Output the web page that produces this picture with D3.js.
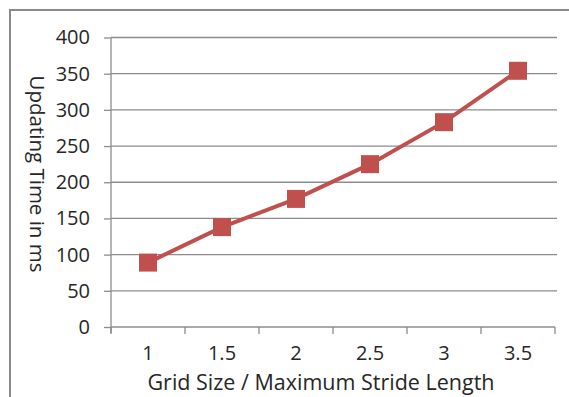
<!DOCTYPE html>
<html><head><meta charset="utf-8">
<script src="https://cdn.jsdelivr.net/npm/d3@7"></script>
<style>html,body{margin:0;padding:0;background:#fff;overflow:hidden}</style>
</head><body>
<svg id="c" width="569" height="397"></svg>
<script>
const categories = ["1","1.5","2","2.5","3","3.5"];
const values = [89, 138, 177, 225, 283, 354];
const yTicks = [0,50,100,150,200,250,300,350,400];
const xTitle = "Grid Size / Maximum Stride Length";
const yTitle = "Updating Time in ms";

(function(){
const svg = d3.select("#c");
const font = "'Open Sans', sans-serif";
const textColor = "#262626";
const red = "#c0504d";

svg.append("rect").attr("x",10).attr("y",10).attr("width",600).attr("height",420)
  .attr("fill","none").attr("stroke","#8a8a8a").attr("stroke-width",2);

const pL = 111, pR = 555, pT = 37.5, pB = 327;
const x = d3.scaleBand().domain(categories).range([pL,pR]).paddingInner(0).paddingOuter(0);
const y = d3.scaleLinear().domain([0,400]).range([pB,pT]);

svg.append("g").selectAll("line").data(yTicks.filter(d=>d>0)).join("line")
  .attr("x1",pL).attr("x2",pR+2).attr("y1",d=>y(d)).attr("y2",d=>y(d))
  .attr("stroke","#8c8c8c").attr("stroke-width",1.3);

const ya = svg.append("g").attr("transform",`translate(${pL},0)`)
  .call(d3.axisLeft(y).tickValues(yTicks).tickSize(7).tickPadding(14));
ya.select(".domain").attr("stroke","#8c8c8c").attr("stroke-width",1.3)
  .attr("d",`M0,${pT}V${pB+6}`);
ya.selectAll(".tick line").attr("stroke","#8c8c8c").attr("stroke-width",1.3);
ya.selectAll(".tick text").attr("font-family",font).attr("font-size",20).attr("fill",textColor);

const xa = svg.append("g").attr("transform",`translate(0,${pB})`)
  .call(d3.axisBottom(x).tickSize(0).tickPadding(19));
xa.select(".domain").attr("stroke","#8c8c8c").attr("stroke-width",1.3).attr("d",`M${pL},0H${pR}`);
xa.selectAll(".tick text").attr("font-family",font).attr("font-size",20).attr("fill",textColor);
const bounds = categories.map(c=>x(c)).concat([x(categories[categories.length-1])+x.bandwidth()]);
xa.append("g").selectAll("line").data(bounds).join("line")
  .attr("x1",d=>d).attr("x2",d=>d).attr("y1",0).attr("y2",7)
  .attr("stroke","#8c8c8c").attr("stroke-width",1.3);

const line = d3.line().x((d,i)=>x(categories[i])+x.bandwidth()/2).y(d=>y(d));
svg.append("path").datum(values).attr("d",line).attr("fill","none")
  .attr("stroke",red).attr("stroke-width",4);
const ms = 18;
svg.append("g").selectAll("rect").data(values).join("rect")
  .attr("x",(d,i)=>x(categories[i])+x.bandwidth()/2-ms/2).attr("y",d=>y(d)-ms/2)
  .attr("width",ms).attr("height",ms).attr("fill",red);

svg.append("text").attr("x",(pL+pR)/2-12).attr("y",390).attr("text-anchor","middle")
  .attr("font-family",font).attr("font-size",21.5).attr("fill",textColor).text(xTitle);
svg.append("text").attr("transform","translate(30,174) rotate(90)").attr("text-anchor","middle")
  .attr("font-family",font).attr("font-size",20.5).attr("fill",textColor).text(yTitle);
})();
</script>
</body></html>
